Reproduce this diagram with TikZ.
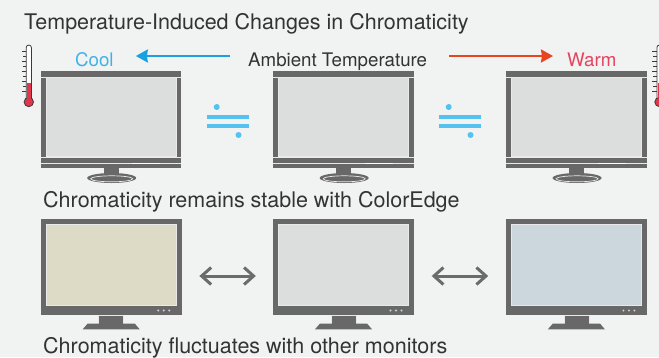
\documentclass[tikz,border=0pt]{standalone}
\usepackage{fontspec}
\setmainfont{TeX Gyre Heros}
\usetikzlibrary{arrows.meta}

\definecolor{bg}{HTML}{F1F2F2}
\definecolor{frame}{HTML}{696868}
\definecolor{rimc}{HTML}{E9E9E9}
\definecolor{screengray}{HTML}{DCDDDD}
\definecolor{screenbeige}{HTML}{DDDAC6}
\definecolor{screenblue}{HTML}{CCD6DD}
\definecolor{dotc}{HTML}{D2D2D2}
\definecolor{inkc}{HTML}{333333}
\definecolor{coolc}{HTML}{3FB2E6}
\definecolor{coolarrowc}{HTML}{1AA1E0}
\definecolor{warmc}{HTML}{E8435E}
\definecolor{warmarrowc}{HTML}{E8441F}
\definecolor{eqc}{HTML}{55C1EE}
\definecolor{thermoline}{HTML}{3A3A3A}
\definecolor{thred}{HTML}{E0374B}
\definecolor{swapc}{HTML}{6B6B6B}

% monitor with stand (upper row): name, centre x
\newcommand\TopMonitor[2]{%
  \node[topframe] (#1) at (#2,119.5) {};
  \fill[screengray] (#2-65,77.8) rectangle (#2+65,156.8);
  \draw[rimc, line width=0.8pt] (#2-65,77.8) rectangle (#2+65,156.8);
  \draw[rimc, line width=0.9pt] (#2-70.25,77.3) -- (#2+70.25,77.3);
  \draw[rimc, line width=0.9pt] (#2-70.25,157.3) -- (#2+70.25,157.3);
  \draw[rimc, line width=0.6pt] (#2-70.25,163.4) -- (#2+70.25,163.4);
  \draw[white, line width=1.6pt] (#2+21,163.4) -- (#2+49,163.4);
  \fill[frame] (#2-7.5,168) rectangle (#2+7.5,173.5);
  \fill[frame] (#2+0.5,178) ellipse [x radius=24.5pt, y radius=5pt];
  \draw[rimc, line width=0.7pt] (#2+0.5,178.8) ellipse [x radius=21pt, y radius=3pt];
}

% plain monitor (lower row): name, centre x, screen colour
\newcommand\LowMonitor[3]{%
  \node[lowframe] (#1) at (#2,267) {};
  \fill[#3, draw=rimc, line width=0.8pt] (#2-65,224) rectangle (#2+65,305);
  \foreach \dx in {47,52.5,58} \fill[dotc] (#2+\dx,310.5) circle (1.1pt);
  \fill[frame, draw=rimc, line width=0.6pt] (#2-12.5,315) rectangle (#2+12.5,324.3);
  \fill[frame] (#2-28.5,329.3) -- (#2-23.5,323.5) -- (#2+23.5,323.5) -- (#2+28.5,329.3) -- cycle;
}

% thermometer: centre x of the tube
\newcommand\Thermo[1]{%
  \fill[white] (#1-2.6,99) -- (#1-2.6,47.6) arc[start angle=180, end angle=0, radius=2.6pt] -- (#1+2.6,99) -- cycle;
  \draw[thermoline, line width=0.8pt] (#1-2.6,99) -- (#1-2.6,47.6) arc[start angle=180, end angle=0, radius=2.6pt] -- (#1+2.6,99);
  \fill[thred] (#1-1.8,83) rectangle (#1+1.8,100);
  \fill[thred, draw=thermoline, line width=0.8pt] (#1,102) circle (4.7pt);
  \fill[thred] (#1-1.8,95) rectangle (#1+1.8,99.5);
  \foreach \ty/\tl in {51/4.5,56/3.5,61/4.5,66/3.5,71/4.5,76/3.5,81/4.5,86/3.5,91/4.5}
    \draw[thermoline, line width=0.8pt] (#1-2.6,\ty) -- (#1-2.6-\tl,\ty);
}

% approximately-equal sign: centre x
\newcommand\ApproxEq[1]{%
  \fill[eqc] (#1-20.7,115) rectangle (#1+20.7,118.7);
  \fill[eqc] (#1-20.7,124) rectangle (#1+20.7,127.7);
  \fill[eqc] (#1-11.3,107) circle (3pt);
  \fill[eqc] (#1+10.5,135) circle (3pt);
}

\begin{document}
\begin{tikzpicture}[x=1pt, y=-1pt,
  topframe/.style={rectangle, fill=frame, inner sep=0pt, minimum width=140.5pt, minimum height=97pt},
  lowframe/.style={rectangle, fill=frame, inner sep=0pt, minimum width=141pt, minimum height=96pt},
  heading/.style={anchor=base west, inner sep=0pt, text=inkc, font=\fontsize{21.5}{24}\selectfont},
  label/.style={anchor=base west, inner sep=0pt, font=\fontsize{18.7}{22}\selectfont},
  temparrow/.style={line width=2.2pt, -{Stealth[length=12pt, width=13pt, inset=1pt]}},
  swap/.style={swapc, line width=3pt, {Straight Barb[length=9.5pt, width=17pt]}-{Straight Barb[length=9.5pt, width=17pt]}}
]
\useasboundingbox (0,0) rectangle (659,357);
\fill[bg] (0,0) rectangle (659,357);
\clip (0,0) rectangle (659,357);

% headings
\node[heading] (title) at (24,29) {Temperature-Induced Changes in Chromaticity};
\node[heading] (stable) at (43,207) {Chromaticity remains stable with ColorEdge};
\node[heading] (fluct) at (43,353) {Chromaticity fluctuates with other monitors};

% temperature labels
\node[label, text=coolc] (cool) at (75,66) {Cool};
\node[label, text=inkc] (amb) at (248,66) {Ambient Temperature};
\node[label, text=warmc] (warm) at (567,66) {Warm};

\draw[temparrow, coolarrowc, shorten <=18pt, shorten >=22pt]
  ([yshift=10pt]amb.base west) -- ([yshift=10pt]cool.base east);
\draw[temparrow, warmarrowc, shorten <=22pt, shorten >=14pt]
  ([yshift=10pt]amb.base east) -- ([yshift=10pt]warm.base west);

% thermometers
\Thermo{28.8}
\Thermo{659.5}

% upper row
\TopMonitor{top1}{111.2}
\TopMonitor{top2}{343.7}
\TopMonitor{top3}{576.6}
\ApproxEq{228}
\ApproxEq{460}

% lower row
\LowMonitor{low1}{111.2}{screenbeige}
\LowMonitor{low2}{343.5}{screengray}
\LowMonitor{low3}{576.4}{screenblue}

\draw[swap, shorten <=17.5pt, shorten >=17pt] ([yshift=-9pt]low1.east) -- ([yshift=-9pt]low2.west);
\draw[swap, shorten <=17.5pt, shorten >=17.5pt] ([yshift=-9pt]low2.east) -- ([yshift=-9pt]low3.west);
\end{tikzpicture}
\end{document}
